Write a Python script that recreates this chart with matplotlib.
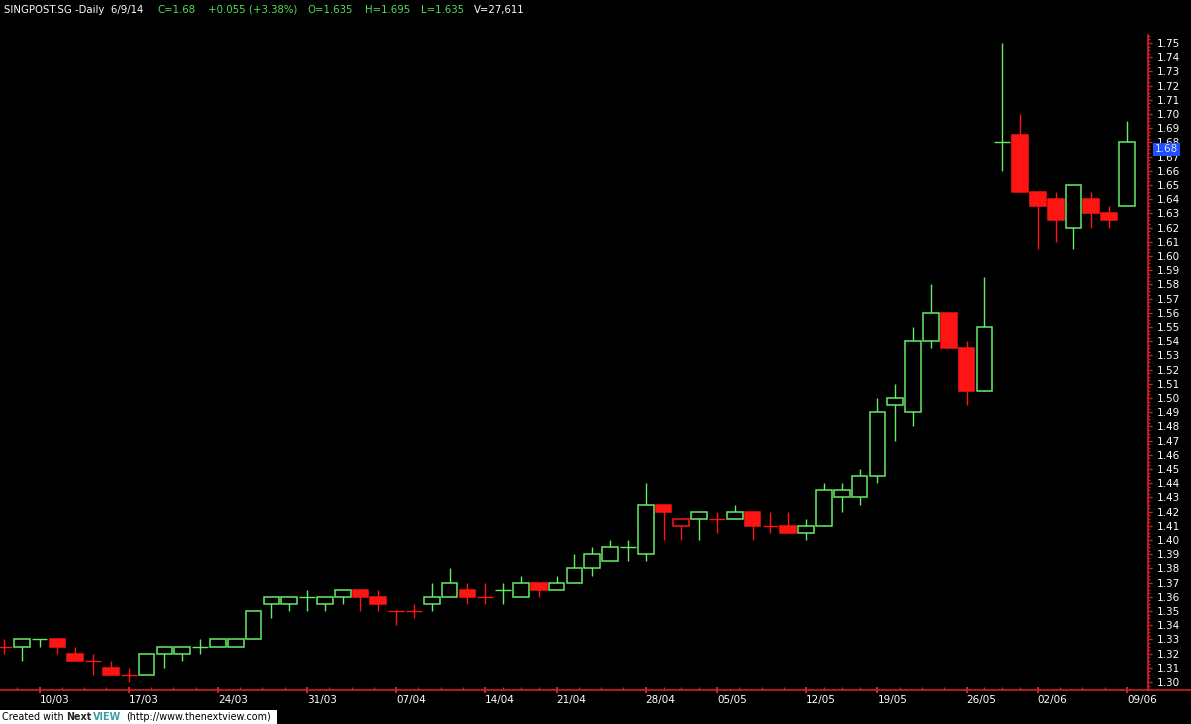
import numpy as np
import pandas as pd
import matplotlib
matplotlib.use('Agg')
import matplotlib.pyplot as plt
from matplotlib.patches import Rectangle
from matplotlib.lines import Line2D
from matplotlib.ticker import MultipleLocator, FixedLocator, FixedFormatter

# trading days, SGX holidays (and one missing day) taken out
holidays = ['2014-04-18', '2014-05-01', '2014-05-13', '2014-05-30']
days = pd.bdate_range('2014-03-06', '2014-06-09')
days = days[~days.isin(pd.to_datetime(holidays))]

opens = [1.325, 1.325, 1.33, 1.33, 1.32, 1.315, 1.31, 1.305, 1.305, 1.32,
         1.32, 1.325, 1.325, 1.325, 1.33, 1.355, 1.355, 1.36, 1.355, 1.36,
         1.365, 1.36, 1.35, 1.35, 1.355, 1.36, 1.365, 1.36, 1.365, 1.36,
         1.37, 1.365, 1.37, 1.38, 1.385, 1.395, 1.39, 1.425, 1.41, 1.415,
         1.415, 1.415, 1.42, 1.41, 1.41, 1.405, 1.41, 1.43, 1.43, 1.445,
         1.495, 1.49, 1.54, 1.56, 1.535, 1.505, 1.68, 1.685, 1.645, 1.64,
         1.62, 1.64, 1.63, 1.635]
highs = [1.33, 1.33, 1.33, 1.33, 1.325, 1.32, 1.315, 1.31, 1.32, 1.325,
         1.325, 1.33, 1.33, 1.33, 1.35, 1.36, 1.36, 1.365, 1.36, 1.365,
         1.365, 1.365, 1.35, 1.355, 1.37, 1.38, 1.37, 1.37, 1.37, 1.375,
         1.37, 1.375, 1.39, 1.395, 1.40, 1.40, 1.44, 1.425, 1.415, 1.42,
         1.42, 1.425, 1.42, 1.42, 1.42, 1.415, 1.44, 1.44, 1.45, 1.50,
         1.51, 1.55, 1.58, 1.56, 1.54, 1.585, 1.75, 1.70, 1.645, 1.645,
         1.65, 1.645, 1.635, 1.695]
lows = [1.32, 1.315, 1.325, 1.32, 1.315, 1.305, 1.305, 1.30, 1.305, 1.31,
        1.315, 1.32, 1.325, 1.325, 1.33, 1.345, 1.35, 1.35, 1.35, 1.355,
        1.35, 1.35, 1.34, 1.345, 1.35, 1.36, 1.355, 1.355, 1.355, 1.36,
        1.36, 1.365, 1.37, 1.375, 1.385, 1.385, 1.385, 1.40, 1.40, 1.40,
        1.405, 1.415, 1.40, 1.405, 1.405, 1.40, 1.41, 1.42, 1.425, 1.44,
        1.47, 1.48, 1.535, 1.535, 1.495, 1.505, 1.66, 1.645, 1.605, 1.61,
        1.605, 1.62, 1.62, 1.635]
closes = [1.325, 1.33, 1.33, 1.325, 1.315, 1.315, 1.305, 1.305, 1.32, 1.325,
          1.325, 1.325, 1.33, 1.33, 1.35, 1.36, 1.36, 1.36, 1.36, 1.365,
          1.36, 1.355, 1.35, 1.35, 1.36, 1.37, 1.36, 1.36, 1.365, 1.37,
          1.365, 1.37, 1.38, 1.39, 1.395, 1.395, 1.425, 1.42, 1.415, 1.42,
          1.415, 1.42, 1.41, 1.41, 1.405, 1.41, 1.435, 1.435, 1.445, 1.49,
          1.50, 1.54, 1.56, 1.535, 1.505, 1.55, 1.68, 1.645, 1.635, 1.625,
          1.65, 1.63, 1.625, 1.68]
# colour shown by the chart: 1 = green, 0 = red
up = [0, 1, 1, 0, 0, 0, 0, 0, 1, 1,
      1, 1, 1, 1, 1, 1, 1, 1, 1, 1,
      0, 0, 0, 0, 1, 1, 0, 0, 1, 1,
      0, 1, 1, 1, 1, 1, 1, 0, 0, 1,
      0, 1, 0, 0, 0, 1, 1, 1, 1, 1,
      1, 1, 1, 0, 0, 1, 1, 0, 0, 0,
      1, 0, 0, 1]

GREEN = '#66ec66'
RED = '#ff1414'
AXRED = '#d42020'
W, H = 1191, 724

fig = plt.figure(figsize=(W / 100, H / 100), dpi=100, facecolor='black')
ax = fig.add_axes([0, 34 / H, 1148 / W, (690 - 35) / H])
ax.set_facecolor('black')

n = len(closes)
x = np.arange(n)
bw = 0.88
for i in range(n):
    c = GREEN if up[i] else RED
    ax.vlines(x[i], lows[i], highs[i], color=c, lw=1.0, zorder=2)
    o, cl = opens[i], closes[i]
    if o == cl:
        ax.hlines(o, x[i] - bw / 2, x[i] + bw / 2, color=c, lw=1.0, zorder=3)
    else:
        fill = c if cl < o else 'black'
        ax.add_patch(Rectangle((x[i] - bw / 2, min(o, cl)), bw, abs(cl - o),
                               facecolor=fill, edgecolor=c, lw=1.1, zorder=3))

ax.set_xlim(-0.224, 64.18)
ax.set_ylim(1.2944, 1.7556)

for s in ['left', 'top']:
    ax.spines[s].set_visible(False)
ax.spines['right'].set_color(AXRED)
ax.spines['right'].set_linewidth(1.3)
ax.spines['bottom'].set_color(AXRED)
ax.spines['bottom'].set_linewidth(1.2)
fig.add_artist(Line2D([1148 / W, 1], [34 / H, 34 / H], color=AXRED, lw=1.2))

# price scale on the right
ax.yaxis.tick_right()
ax.yaxis.set_major_locator(MultipleLocator(0.01))
ax.yaxis.set_minor_locator(MultipleLocator(0.0025))
ax.yaxis.set_major_formatter(plt.FormatStrFormatter('%.2f'))
ax.tick_params(axis='y', which='major', colors=AXRED, labelcolor='white',
               length=3, width=1, labelsize=7.5, pad=3)
ax.tick_params(axis='y', which='minor', colors=AXRED, length=1.5, width=1)

# date scale: major on Mondays, minor every quarter week
mondays = [i for i in range(n) if days[i].weekday() == 0]
minors = []
prev = None
for m in mondays:
    if prev is None:
        minors.append(m - 1.25)
    else:
        step = (m - prev) / 4
        minors += [prev + step, prev + 2 * step, prev + 3 * step]
    prev = m
minors.append(mondays[-1] + 1.25)
ax.xaxis.set_major_locator(FixedLocator(mondays))
ax.xaxis.set_major_formatter(FixedFormatter([days[i].strftime('%d/%m') for i in mondays]))
ax.xaxis.set_minor_locator(FixedLocator(minors))
ax.tick_params(axis='x', which='major', colors=AXRED, labelcolor='white',
               direction='inout', length=5, width=1.5, labelsize=7.5, pad=1)
ax.tick_params(axis='x', which='minor', colors=AXRED, direction='in',
               length=2, width=1)
plt.setp(ax.get_xticklabels(), ha='left')

# last price marker
ax.annotate('%.2f' % closes[-1], xy=(1, closes[-1]), xycoords=('axes fraction', 'data'),
            xytext=(7, -7), textcoords='offset pixels', ha='left', va='center',
            fontsize=7.5, color='#d8e6ff', annotation_clip=False, zorder=10,
            bbox=dict(boxstyle='square,pad=0.15', fc='#1f50ff', ec='none'))

# header line
ty = 1 - 10 / H
fs = 7.3
fig.text(4 / W, ty, 'SINGPOST.SG -Daily  6/9/14', color='white', fontsize=fs, va='center')
fig.text(157 / W, ty, 'C=1.68', color='#55dd55', fontsize=fs, va='center')
fig.text(208 / W, ty, '+0.055 (+3.38%)', color='#55dd55', fontsize=fs, va='center')
fig.text(307 / W, ty, 'O=1.635', color='#55dd55', fontsize=fs, va='center')
fig.text(365 / W, ty, 'H=1.695', color='#55dd55', fontsize=fs, va='center')
fig.text(421 / W, ty, 'L=1.635', color='#55dd55', fontsize=fs, va='center')
fig.text(474 / W, ty, 'V=27,611', color='white', fontsize=fs, va='center')

# credit box
fig.add_artist(Rectangle((0, 0), 277 / W, 14 / H, transform=fig.transFigure,
                         facecolor='white', edgecolor='none'))
cy = 7 / H
cf = 6.9
fig.text(2 / W, cy, 'Created with', color='black', fontsize=cf, va='center')
fig.text(66 / W, cy, 'Next', color='#222222', fontsize=cf, va='center', fontweight='bold')
fig.text(93 / W, cy, 'VIEW', color='#3a9fa8', fontsize=cf, va='center', fontweight='bold')
fig.text(126 / W, cy, '(http://www.thenextview.com)', color='black', fontsize=cf, va='center')

fig.savefig('out.png', dpi=100, facecolor='black')
